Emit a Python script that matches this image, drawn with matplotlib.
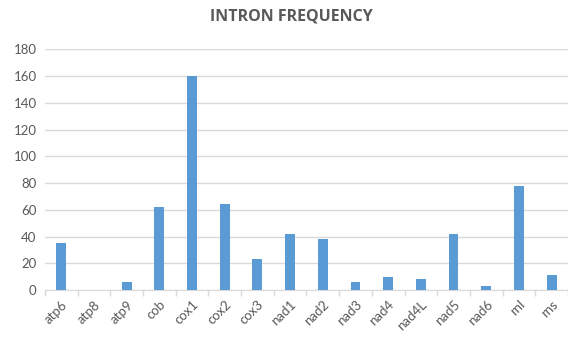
import matplotlib
matplotlib.use("Agg")
import matplotlib.pyplot as plt
import numpy as np

genes = ["atp6", "atp8", "atp9", "cob", "cox1", "cox2", "cox3", "nad1",
         "nad2", "nad3", "nad4", "nad4L", "nad5", "nad6", "rnl", "rns"]
intron_counts = [35, 0, 6, 62, 160, 64, 23, 42, 38, 6, 10, 8, 42, 3, 78, 11]
y_ticks = [0, 20, 40, 60, 80, 100, 120, 140, 160, 180]

plt.rcParams["font.family"] = ["Lato", "DejaVu Sans"]
text_gray = "#595959"

fig = plt.figure(figsize=(5.68, 3.37), dpi=100)
ax = fig.add_axes([0.079, 0.139, 0.921, 0.715])

x = np.arange(len(genes))
ax.bar(x, intron_counts, width=0.3, color="#5B9BD5", zorder=3)

ax.set_xlim(-0.5, len(genes) - 0.5)
ax.set_ylim(0, 180)
ax.set_yticks(y_ticks)
ax.set_yticklabels([str(v) for v in y_ticks], fontsize=9.5, color=text_gray)
ax.yaxis.grid(True, color="#D9D9D9", linewidth=1, zorder=0)
ax.tick_params(axis="y", length=0, pad=6)

ax.set_xticks(x)
ax.set_xticklabels(genes, rotation=45, ha="right", rotation_mode="anchor",
                   fontsize=9.5, color=text_gray)
ax.tick_params(axis="x", which="major", length=0, pad=6)
ax.set_xticks(np.arange(-0.5, len(genes), 1), minor=True)
ax.tick_params(axis="x", which="minor", length=4, color="#D9D9D9", width=1)

for side in ("top", "right", "left"):
    ax.spines[side].set_visible(False)
ax.spines["bottom"].set_color("#D9D9D9")

fig.text(0.513, 0.95, "INTRON FREQUENCY", ha="center", va="center",
         fontsize=11.5, fontweight="bold", color=text_gray,
         family=["Open Sans", "DejaVu Sans"])

fig.savefig("out.png", dpi=100)
